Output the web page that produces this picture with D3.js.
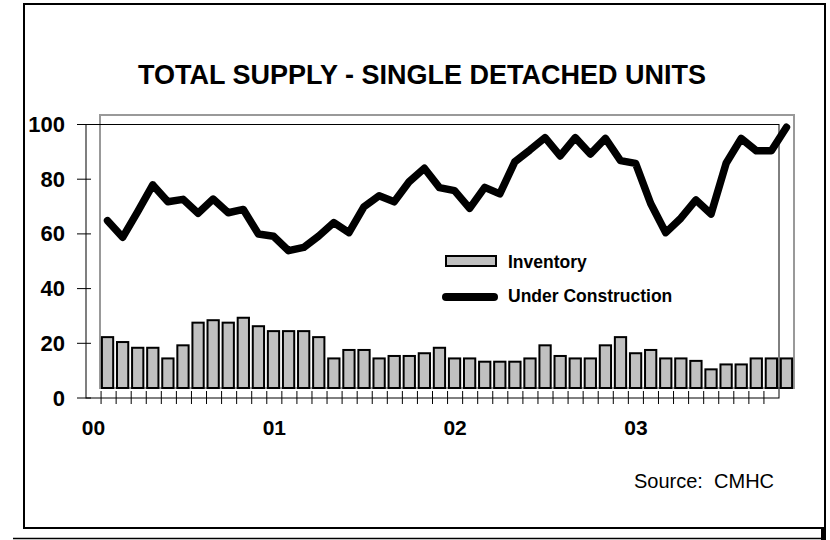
<!DOCTYPE html>
<html>
<head>
<meta charset="utf-8">
<script src="https://cdn.jsdelivr.net/npm/d3@7"></script>
<style>
body { margin: 0; background: #fff; }
svg { display: block; font-family: "Liberation Sans", Arial, sans-serif; }
</style>
</head>
<body>
<svg id="chart" width="830" height="540"></svg>
<script>
// monthly, Jan 2000 - Oct 2003
var months = [
    "Jan 00","Feb 00","Mar 00","Apr 00","May 00","Jun 00","Jul 00","Aug 00","Sep 00","Oct 00","Nov 00","Dec 00",
    "Jan 01","Feb 01","Mar 01","Apr 01","May 01","Jun 01","Jul 01","Aug 01","Sep 01","Oct 01","Nov 01","Dec 01",
    "Jan 02","Feb 02","Mar 02","Apr 02","May 02","Jun 02","Jul 02","Aug 02","Sep 02","Oct 02","Nov 02","Dec 02",
    "Jan 03","Feb 03","Mar 03","Apr 03","May 03","Jun 03","Jul 03","Aug 03","Sep 03","Oct 03"
];
var yearStarts = ["Jan 00", "Jan 01", "Jan 02", "Jan 03"];
var yearLabels = ["00", "01", "02", "03"];
var yTicks = [0, 20, 40, 60, 80, 100];

var inventory = [
    19.0, 17.2, 15.1, 15.1, 11.2, 16.0, 24.3, 25.2, 24.3, 26.1, 23.0, 21.2,
    21.2, 21.2, 19.0, 11.2, 14.3, 14.3, 11.2, 12.1, 12.1, 13.1, 15.1, 11.2,
    11.2, 10.0, 10.0, 10.0, 11.2, 16.0, 12.1, 11.2, 11.2, 16.0, 19.0, 13.1,
    14.3, 11.2, 11.2, 10.3, 7.2, 9.0, 9.0, 11.2, 11.2, 11.2
];
var underConstruction = [
    61.3, 55.2, 64.6, 74.4, 68.2, 69.1, 64.0, 69.2, 64.2, 65.4, 56.4, 55.6,
    50.3, 51.5, 55.7, 60.6, 56.9, 66.4, 70.4, 68.2, 75.6, 80.5, 73.4, 72.3,
    65.8, 73.5, 71.1, 82.9, 87.2, 91.7, 85.0, 91.7, 85.7, 91.4, 83.3, 82.3,
    67.6, 56.9, 62.2, 68.9, 63.7, 82.3, 91.4, 86.9, 86.9, 95.5
];

var svg = d3.select("#chart");

// outer frame
svg.append("rect")
    .attr("x", 24).attr("y", 4)
    .attr("width", 801).attr("height", 524)
    .attr("fill", "none")
    .attr("stroke", "#000")
    .attr("stroke-width", 2);
svg.append("line")
    .attr("x1", 13).attr("x2", 823)
    .attr("y1", 538.5).attr("y2", 538.5)
    .attr("stroke", "#000").attr("stroke-width", 1.5);
svg.append("rect")
    .attr("x", 821).attr("y", 528)
    .attr("width", 5).attr("height", 12)
    .attr("fill", "#000");

svg.append("text")
    .attr("x", 422).attr("y", 84)
    .attr("text-anchor", "middle")
    .style("font-size", "27px")
    .style("font-weight", "bold")
    .text("TOTAL SUPPLY - SINGLE DETACHED UNITS");

// plot area (data)
var xPlot = d3.scaleBand().domain(months).range([100, 794])
    .paddingInner(0.12).paddingOuter(0.06);
var yPlot = d3.scaleLinear().domain([0, 100]).range([388, 115]);

svg.append("rect")
    .attr("x", 100).attr("y", 115)
    .attr("width", 694).attr("height", 273)
    .attr("fill", "none")
    .attr("stroke", "#999")
    .attr("stroke-width", 2);

// axes frame
var xAxis = d3.scaleBand().domain(months).range([86, 779]);
var yAxis = d3.scaleLinear().domain([0, 100]).range([398, 124.5]);

svg.append("rect")
    .attr("x", 86).attr("y", 124.5)
    .attr("width", 693).attr("height", 273.5)
    .attr("fill", "none")
    .attr("stroke", "#000")
    .attr("stroke-width", 1);

svg.selectAll(".bar")
    .data(inventory)
    .enter()
    .append("rect")
    .attr("class", "bar")
    .attr("x", function(d, i) { return xPlot(months[i]) + 1; })
    .attr("width", xPlot.bandwidth() - 2)
    .attr("y", function(d) { return yPlot(d) + 1; })
    .attr("height", function(d) { return yPlot(0) - yPlot(d) - 1; })
    .attr("fill", "#c0c0c0")
    .attr("stroke", "#000")
    .attr("stroke-width", 2);

var line_generator = d3.line()
    .x(function(d, i) { return xPlot(months[i]) + xPlot.bandwidth() / 2; })
    .y(function(d) { return yPlot(d); });

svg.append("path")
    .attr("d", line_generator(underConstruction))
    .attr("fill", "none")
    .attr("stroke", "#000")
    .attr("stroke-width", 7.5)
    .attr("stroke-linejoin", "round")
    .attr("stroke-linecap", "round");

// y axis
var gy = svg.append("g")
    .attr("transform", "translate(86,0)")
    .call(d3.axisLeft(yAxis).tickValues(yTicks).tickSize(0).tickPadding(21));
gy.select(".domain").remove();
gy.selectAll("text")
    .style("font-size", "22px")
    .style("font-weight", "bold")
    .style("font-family", "'Liberation Sans', Arial, sans-serif")
    .attr("fill", "#000");

svg.selectAll(".ytick")
    .data(yTicks)
    .enter()
    .append("line")
    .attr("class", "ytick")
    .attr("x1", 77).attr("x2", 91)
    .attr("y1", function(d) { return yAxis(d); })
    .attr("y2", function(d) { return yAxis(d); })
    .attr("stroke", "#000");

// x axis
svg.selectAll(".xtick")
    .data(months.slice(1))
    .enter()
    .append("line")
    .attr("class", "xtick")
    .attr("x1", function(d) { return xAxis(d); })
    .attr("x2", function(d) { return xAxis(d); })
    .attr("y1", 391).attr("y2", 404)
    .attr("stroke", "#000");

var gx = svg.append("g")
    .attr("transform", "translate(0,398)")
    .call(d3.axisBottom(xAxis).tickValues(yearStarts)
        .tickFormat(function(d, i) { return yearLabels[i]; })
        .tickSize(0).tickPadding(22));
gx.select(".domain").remove();
gx.selectAll("text")
    .style("font-size", "21px")
    .style("font-weight", "bold")
    .style("font-family", "'Liberation Sans', Arial, sans-serif")
    .attr("fill", "#000");

// legend
var legend = svg.append("g");
legend.append("rect")
    .attr("x", 446).attr("y", 256)
    .attr("width", 50).attr("height", 10)
    .attr("fill", "#c0c0c0")
    .attr("stroke", "#000")
    .attr("stroke-width", 2);
legend.append("text")
    .attr("x", 508).attr("y", 262)
    .attr("dominant-baseline", "central")
    .style("font-size", "17.5px")
    .style("font-weight", "bold")
    .text("Inventory");
legend.append("line")
    .attr("x1", 446).attr("x2", 494)
    .attr("y1", 297).attr("y2", 297)
    .attr("stroke", "#000")
    .attr("stroke-width", 8)
    .attr("stroke-linecap", "round");
legend.append("text")
    .attr("x", 508).attr("y", 296)
    .attr("dominant-baseline", "central")
    .style("font-size", "17.5px")
    .style("font-weight", "bold")
    .text("Under Construction");

svg.append("text")
    .attr("x", 634).attr("y", 488)
    .style("font-size", "20px")
    .style("white-space", "pre")
    .text("Source:  CMHC");
</script>
</body>
</html>
